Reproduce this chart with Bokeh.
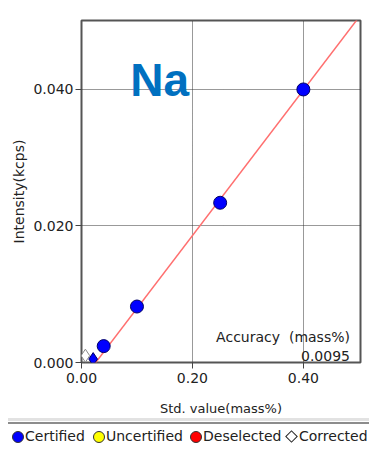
from bokeh.plotting import figure
from bokeh.models import Range1d, FixedTicker, NumeralTickFormatter, Label, Div
from bokeh.layouts import column
from bokeh.embed import file_html
from bokeh.resources import INLINE

# ---- data ----
element = "Na"
cert_x = [0.04, 0.10, 0.25, 0.40]
cert_y = [0.0024, 0.0082, 0.0234, 0.0400]
low_x = [0.021]
low_y = [0.0005]
corr_x = [0.007]
corr_y = [0.0010]
line_x = [0.02, 0.505]
line_y = [-0.0006, 0.0511]
x_ticks = [0.0, 0.2, 0.4]
y_ticks = [0.0, 0.02, 0.04]
accuracy_title = "Accuracy\u00a0\u00a0(mass%)"
accuracy_value = "0.0095"
legend_labels = ["Certified", "Uncertified", "Deselected", "Corrected"]
legend_colors = ["#0000FF", "#FFFF00", "#FF0000", "#FFFFFF"]
legend_markers = ["circle", "circle", "circle", "diamond"]

FONT = "DejaVu Sans"

p = figure(width=369, height=418, output_backend="svg", toolbar_location=None,
           x_range=Range1d(0, 0.503), y_range=Range1d(0, 0.0501),
           min_border_left=81, min_border_right=9, min_border_top=20, min_border_bottom=56)
p.background_fill_color = "white"
p.border_fill_color = "white"
p.outline_line_color = "#555555"
p.outline_line_width = 2

for ax in (p.xaxis[0], p.yaxis[0]):
    ax.axis_line_color = None
    ax.major_tick_line_color = "#444444"
    ax.major_tick_in = 0
    ax.major_tick_out = 6
    ax.minor_tick_line_color = None
    ax.major_label_text_font = FONT
    ax.major_label_text_font_size = "14px"
    ax.major_label_text_color = "#222222"
    ax.axis_label_text_font = FONT
    ax.axis_label_text_font_style = "normal"
    ax.axis_label_text_color = "#222222"

p.xaxis.ticker = FixedTicker(ticks=x_ticks, minor_ticks=[])
p.yaxis.ticker = FixedTicker(ticks=y_ticks, minor_ticks=[])
p.xaxis.formatter = NumeralTickFormatter(format="0.00")
p.yaxis.formatter = NumeralTickFormatter(format="0.000")
p.xaxis.major_label_standoff = 4
p.yaxis.major_label_standoff = 2
p.xaxis.axis_label = "Std. value(mass%)"
p.yaxis.axis_label = "Intensity(kcps)"
p.xaxis.axis_label_text_font_size = "13px"
p.yaxis.axis_label_text_font_size = "14px"
p.xaxis.axis_label_standoff = 15
p.yaxis.axis_label_standoff = 3

p.xgrid.ticker = FixedTicker(ticks=x_ticks[1:])
p.ygrid.ticker = FixedTicker(ticks=y_ticks[1:])
for g in (p.xgrid[0], p.ygrid[0]):
    g.grid_line_color = "#333333"
    g.grid_line_dash = "1 1"
    g.grid_line_width = 1

p.line(line_x, line_y, line_color="#FF6F6F", line_width=1.5)
p.scatter(corr_x, corr_y, marker="diamond", size=13, fill_color="white", line_color="#888888")
p.scatter(low_x, low_y, marker="diamond", size=13, fill_color="#0000FF", line_color="#000066")
p.scatter(cert_x, cert_y, marker="circle", size=13, fill_color="#0000FF", line_color="#000066")

p.add_layout(Label(x=0.088, y=0.0414, text=element, text_font="Liberation Sans",
                   text_font_style="bold", text_font_size="46px", text_color="#0070C0",
                   text_baseline="alphabetic"))
p.add_layout(Label(x=0.484, y=0.0038, text=accuracy_title, text_font=FONT,
                   text_font_size="14px", text_color="#222222", text_align="right",
                   text_baseline="alphabetic"))
p.add_layout(Label(x=0.484, y=0.00088, text=accuracy_value, text_font=FONT,
                   text_font_size="14px", text_color="#222222", text_align="right",
                   text_baseline="alphabetic"))

# legend strip (HTML, below the plot)
marker_left = [12, 93, 190, 285]
text_left = [25, 106, 203, 299]
items = []
for lab, col, mk, ml, tl in zip(legend_labels, legend_colors, legend_markers, marker_left, text_left):
    if mk == "circle":
        items.append(
            f'<span style="position:absolute;left:{ml}px;top:13px;width:12px;height:12px;'
            f'box-sizing:border-box;border-radius:50%;background:{col};border:1px solid #333;"></span>')
    else:
        items.append(
            f'<span style="position:absolute;left:{ml + 2}px;top:14px;width:9px;height:9px;'
            f'box-sizing:border-box;background:{col};border:1px solid #222;transform:rotate(45deg);"></span>')
    items.append(
        f'<span style="position:absolute;left:{tl}px;top:10px;line-height:17px;">{lab}</span>')

html = (
    '<div style="position:relative;width:369px;height:31px;overflow:hidden;background:white;'
    f"font-family:'{FONT}';font-size:14px;color:#222;white-space:nowrap;\">"
    '<div style="position:absolute;left:8px;top:0px;width:361px;height:3px;background:#e2e2e2;"></div>'
    '<div style="position:absolute;left:8px;top:4px;width:361px;height:2px;background:#8c8c8c;"></div>'
    + "".join(items) + "</div>"
)
leg = Div(text=html, width=369, height=31, margin=0)

out = column(p, leg, spacing=0)
open("out.html", "w").write(file_html(out, INLINE))
